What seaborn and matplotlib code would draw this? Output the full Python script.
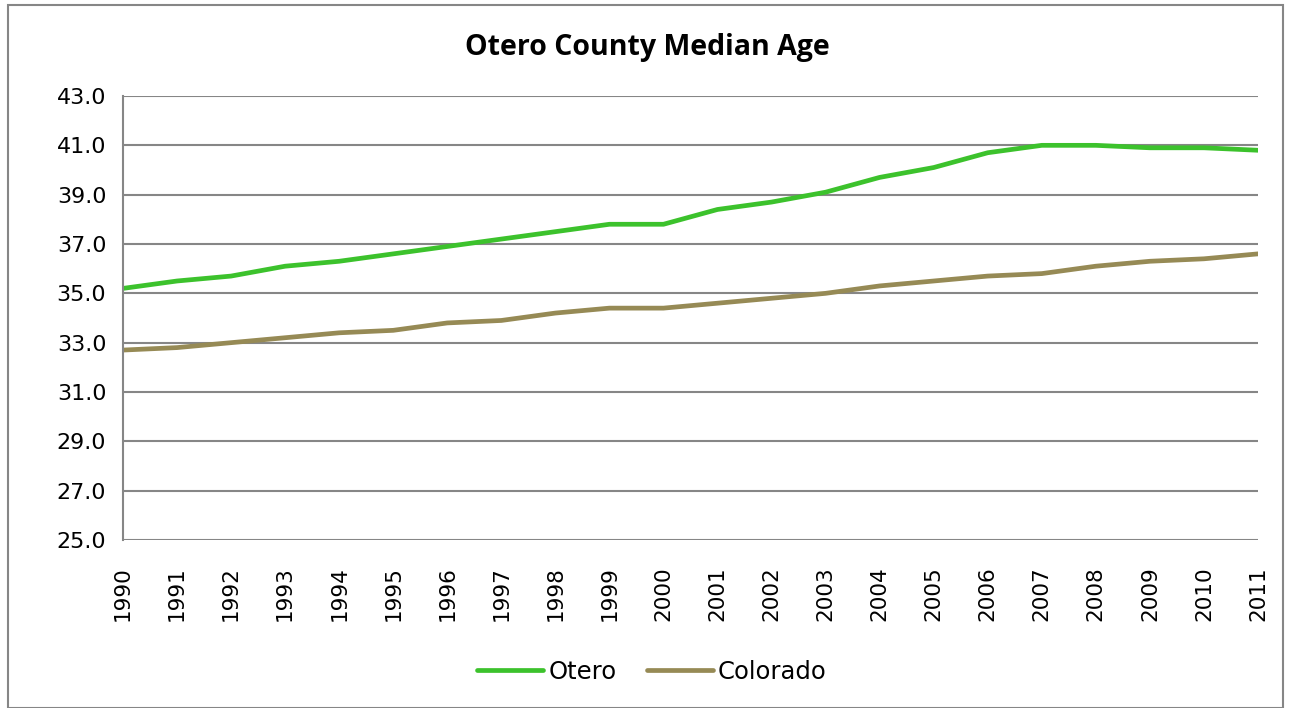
import numpy as np
import pandas as pd
import seaborn as sns
import matplotlib.pyplot as plt
from matplotlib.patches import Rectangle

years = list(range(1990, 2012))
otero = [35.2, 35.5, 35.7, 36.1, 36.3, 36.6, 36.9, 37.2, 37.5, 37.8, 37.8,
         38.4, 38.7, 39.1, 39.7, 40.1, 40.7, 41.0, 41.0, 40.9, 40.9, 40.8]
colorado = [32.7, 32.8, 33.0, 33.2, 33.4, 33.5, 33.8, 33.9, 34.2, 34.4, 34.4,
            34.6, 34.8, 35.0, 35.3, 35.5, 35.7, 35.8, 36.1, 36.3, 36.4, 36.6]
y_ticks = [25.0, 27.0, 29.0, 31.0, 33.0, 35.0, 37.0, 39.0, 41.0, 43.0]

df = pd.DataFrame({'Year': years * 2,
                   'Age': otero + colorado,
                   'Series': ['Otero'] * len(years) + ['Colorado'] * len(years)})

sns.set_style('white')
plt.rcParams['font.family'] = ['DejaVu Sans']
plt.rcParams['text.color'] = 'black'
plt.rcParams['xtick.color'] = 'black'
plt.rcParams['ytick.color'] = 'black'

fig = plt.figure(figsize=(12.89, 7.08), dpi=100)
ax = fig.add_axes([123 / 1289, 1 - 540 / 708, (1258 - 123) / 1289, (540 - 96) / 708])

sns.lineplot(data=df, x='Year', y='Age', hue='Series', ax=ax,
             palette={'Otero': '#3cc22c', 'Colorado': '#968a55'},
             linewidth=3.4, solid_capstyle='round')

ax.set_xlim(1990, 2011)
ax.set_ylim(25, 43)
ax.set_yticks(y_ticks)
ax.set_yticklabels([f'{v:.1f}' for v in y_ticks], fontsize=16)
ax.set_xticks(years)
ax.set_xticklabels([str(y) for y in years], rotation=90, fontsize=15.5)
ax.yaxis.grid(True, color='#868686', linewidth=1.5)
ax.set_axisbelow(True)
ax.set_xlabel('')
ax.set_ylabel('')
for s in ['top', 'right', 'bottom']:
    ax.spines[s].set_visible(False)
ax.spines['left'].set_color('#868686')
ax.spines['left'].set_linewidth(1.5)
ax.tick_params(axis='y', length=0, pad=12)
ax.tick_params(axis='x', length=0, pad=19)

fig.text(647 / 1289, 1 - 47 / 708, 'Otero County Median Age', fontsize=20.5,
         fontweight='bold', family='Open Sans', ha='center', va='center')

handles, labels = ax.get_legend_handles_labels()
ax.get_legend().remove()
fig.legend(handles, labels, loc='center', bbox_to_anchor=(652 / 1289, 1 - 672 / 708),
           ncol=2, frameon=False, fontsize=17.5, handlelength=2.7,
           columnspacing=1.25, handletextpad=0.22)

fig.patches.append(Rectangle((8 / 1289, 0), 1275 / 1289, 1 - 5 / 708,
                             transform=fig.transFigure, fill=False,
                             edgecolor='#868686', linewidth=1.5))

fig.savefig('out.png', dpi=100)
